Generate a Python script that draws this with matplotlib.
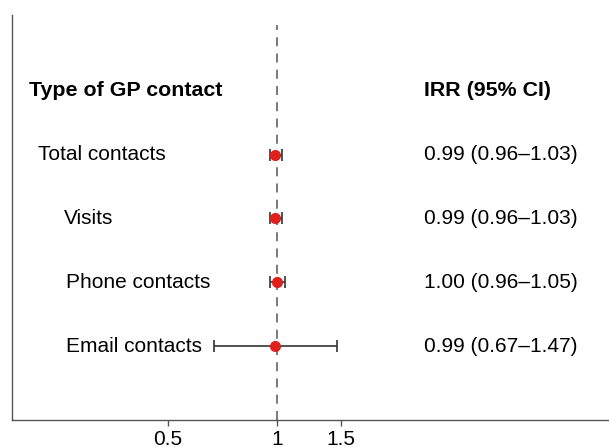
import matplotlib.pyplot as plt
import matplotlib.transforms as mtransforms

plt.rcParams['font.family'] = ['Liberation Sans', 'DejaVu Sans']

labels = ['Total contacts', 'Visits', 'Phone contacts', 'Email contacts']
label_x = [0.043, 0.086, 0.090, 0.090]
irr = [0.99, 0.99, 1.00, 0.99]
lower = [0.96, 0.96, 0.96, 0.67]
upper = [1.03, 1.03, 1.05, 1.47]
ci_text = ['0.99 (0.96\u20131.03)', '0.99 (0.96\u20131.03)',
           '1.00 (0.96\u20131.05)', '0.99 (0.67\u20131.47)']
ticks = [0.5, 1, 1.5]
tick_labels = ['0.5', '1', '1.5']

rows = [4, 3, 2, 1]

fig = plt.figure(figsize=(6.09, 4.47), dpi=100)
ax = fig.add_axes([0.0205, 0.0604, 0.9795, 0.9060])
ax.set_xscale('log')
ax.set_xlim(0.186, 8.27)
ax.set_ylim(-0.16, 6.19)

# reference line at IRR = 1
ax.plot([1, 1], [-0.16, 6.04], ls=(0, (5, 4)), color='#707070', lw=1.3, zorder=1)

xerr = [[v - lo for v, lo in zip(irr, lower)], [hi - v for v, hi in zip(irr, upper)]]
ax.errorbar(irr, rows, xerr=xerr, fmt='none', ecolor='#333333', elinewidth=1.2,
            capsize=4, capthick=1.2, zorder=2)
ax.plot(irr, rows, 'o', color='#e0201c', ms=7, zorder=3)

trans = mtransforms.blended_transform_factory(ax.transAxes, ax.transData)
ax.text(0.028, 5, 'Type of GP contact', transform=trans, fontsize=15.4,
        fontweight='bold', va='center', ha='left')
ax.text(0.690, 5, 'IRR (95% CI)', transform=trans, fontsize=15.4,
        fontweight='bold', va='center', ha='left')
for y, lab, lx, ct in zip(rows, labels, label_x, ci_text):
    ax.text(lx, y, lab, transform=trans, fontsize=15, va='center', ha='left')
    ax.text(0.690, y, ct, transform=trans, fontsize=15, va='center', ha='left')

ax.set_xticks(ticks)
ax.set_xticklabels(tick_labels)
ax.xaxis.set_minor_locator(plt.NullLocator())
ax.set_yticks([])
ax.tick_params(axis='x', length=4, width=1, color='#555555', labelsize=15, pad=3)
for s in ['top', 'right']:
    ax.spines[s].set_visible(False)
for s in ['left', 'bottom']:
    ax.spines[s].set_color('#555555')
    ax.spines[s].set_linewidth(1)

fig.savefig('out.png', dpi=100)
